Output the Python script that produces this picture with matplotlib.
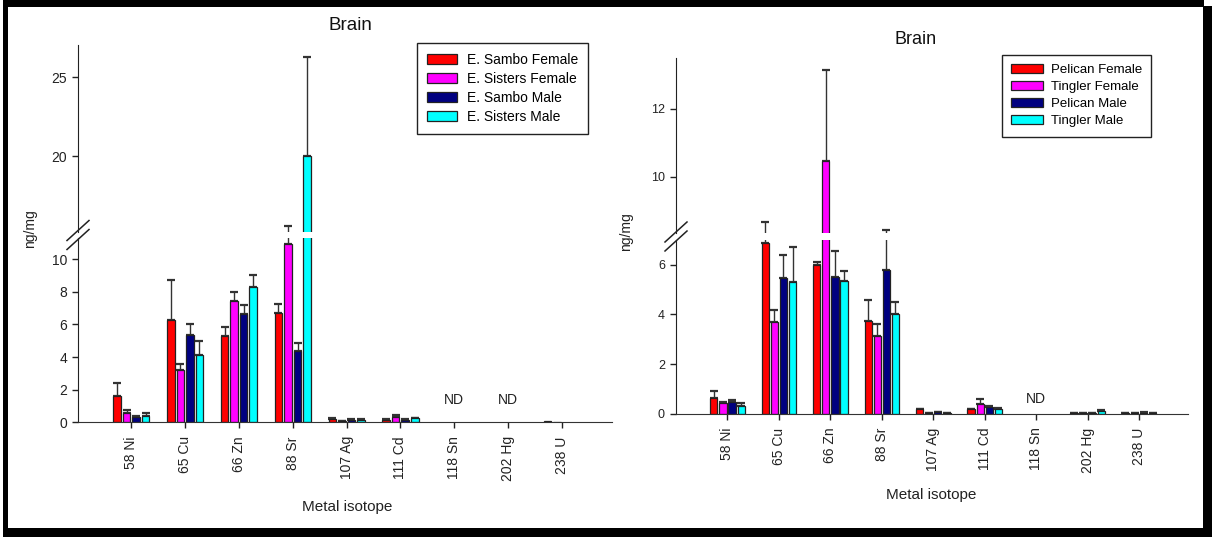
import numpy as np
import matplotlib
matplotlib.use('Agg')
import matplotlib.pyplot as plt
from matplotlib.patches import Rectangle
from matplotlib.lines import Line2D
import matplotlib.transforms as mtrans

plt.rcParams['font.family'] = ['Liberation Sans', 'DejaVu Sans']

W, H = 1212, 537
nan = np.nan

isotopes = ['58 Ni', '65 Cu', '66 Zn', '88 Sr', '107 Ag', '111 Cd', '118 Sn', '202 Hg', '238 U']
colors = ['#ff0000', '#ff00ff', '#000080', '#00ffff']

# panel 1 : E. Sambo / E. Sisters (ng/mg, mean and top of error bar)
left_labels = ['E. Sambo Female', 'E. Sisters Female', 'E. Sambo Male', 'E. Sisters Male']
sambo_f = [1.63, 6.26, 5.30, 6.73, 0.20, 0.16, nan, nan, 0.08]
sambo_f_top = [2.42, 8.75, 5.87, 7.28, 0.27, 0.20, nan, nan, nan]
sisters_f = [0.60, 3.21, 7.44, 10.92, 0.06, 0.31, nan, nan, 0.03]
sisters_f_top = [0.74, 3.58, 7.98, 15.6, 0.07, 0.45, nan, nan, nan]
sambo_m = [0.31, 5.38, 6.65, 4.40, 0.16, 0.16, nan, nan, nan]
sambo_m_top = [0.37, 6.03, 7.20, 4.85, 0.20, 0.20, nan, nan, nan]
sisters_m = [0.40, 4.11, 8.30, 20.0, 0.16, 0.25, nan, nan, nan]
sisters_m_top = [0.59, 4.97, 9.06, 26.3, 0.20, 0.29, nan, nan, nan]
left_nd = ['118 Sn', '202 Hg']

# panel 2 : Pelican / Tingler
right_labels = ['Pelican Female', 'Tingler Female', 'Pelican Male', 'Tingler Male']
pelican_f = [0.64, 6.86, 5.99, 3.73, 0.18, 0.17, nan, 0.01, 0.03]
pelican_f_top = [0.91, 8.66, 6.12, 4.60, 0.19, 0.20, nan, 0.02, 0.04]
tingler_f = [0.44, 3.70, 10.47, 3.14, 0.02, 0.41, nan, 0.02, 0.03]
tingler_f_top = [0.48, 4.17, 13.16, 3.60, 0.03, 0.58, nan, 0.03, 0.04]
pelican_m = [0.48, 5.48, 5.52, 5.81, 0.05, 0.29, nan, 0.03, 0.03]
pelican_m_top = [0.56, 6.39, 6.55, 8.45, 0.07, 0.32, nan, 0.04, 0.05]
tingler_m = [0.32, 5.29, 5.34, 4.00, 0.03, 0.20, nan, 0.12, 0.03]
tingler_m_top = [0.44, 6.70, 5.74, 4.50, 0.04, 0.22, nan, 0.15, 0.04]
right_nd = ['118 Sn']


def fx(px):
    return px / W


def fy(py):
    return 1 - py / H


def rect(x0, y_top, x1, y_bot):
    return [fx(x0), fy(y_bot), fx(x1) - fx(x0), fy(y_top) - fy(y_bot)]


def draw_bars(ax, means, tops, step=0.177, width=0.14):
    x = np.arange(len(isotopes))
    handles = []
    for k, (m, t) in enumerate(zip(means, tops)):
        m = np.array(m, float)
        t = np.array(t, float)
        xs = x + (k - 1.5) * step
        ok = np.isfinite(m)
        h = ax.bar(xs[ok], m[ok], width, color=colors[k], edgecolor='#222222', linewidth=0.9, zorder=2)
        handles.append(h)
        ek = ok & np.isfinite(t)
        up = t[ek] - m[ek]
        ax.errorbar(xs[ek], m[ek], yerr=[np.zeros_like(up), up], fmt='none',
                    ecolor='#333333', elinewidth=1.0, capsize=3, capthick=1.6, zorder=1)
    return handles


def draw_panel(fig, xr, lo_y, hi_y, means, tops, lo_lim, hi_lim, lo_ticks, hi_ticks,
               xlim, nd, nd_y, ytick_size):
    ax_lo = fig.add_axes(rect(xr[0], lo_y[0], xr[1], lo_y[1]))
    ax_hi = fig.add_axes(rect(xr[0], hi_y[0], xr[1], hi_y[1]))
    handles = None
    for ax in (ax_lo, ax_hi):
        handles = draw_bars(ax, means, tops)
        ax.set_xlim(*xlim)
        ax.set_facecolor('none')
        for s in ('top', 'right'):
            ax.spines[s].set_visible(False)
        ax.spines['left'].set_color('#222222')
        ax.spines['bottom'].set_color('#333333')
        ax.tick_params(axis='y', direction='out', length=4, width=1, pad=4,
                       labelsize=ytick_size, colors='#222222')
    ax_lo.set_ylim(*lo_lim)
    ax_hi.set_ylim(*hi_lim)
    ax_lo.set_yticks(lo_ticks)
    ax_hi.set_yticks(hi_ticks)
    ax_hi.spines['bottom'].set_visible(False)
    ax_hi.set_xticks([])
    ax_lo.set_xticks(np.arange(len(isotopes)))
    ax_lo.set_xticklabels(isotopes, rotation=90, fontsize=10)
    ax_lo.tick_params(axis='x', direction='out', length=4, width=1, pad=6, colors='#222222')
    trans = mtrans.blended_transform_factory(ax_lo.transData, ax_lo.transAxes)
    for name in nd:
        ax_lo.text(isotopes.index(name), nd_y, 'ND', transform=trans, ha='center',
                   va='center', fontsize=10, color='#222222')
    # axis break marks
    cx = xr[0]
    cy = (lo_y[0] + hi_y[1]) / 2
    for dy in (-4.5, 4.5):
        fig.add_artist(Line2D([fx(cx - 11), fx(cx + 11)], [fy(cy + dy + 10), fy(cy + dy - 10)],
                              color='#222222', lw=1.1))
    return handles


fig = plt.figure(figsize=(W / 100, H / 100), dpi=100)
fig.patch.set_facecolor('white')

# shadowed frame
fig.add_artist(Rectangle((fx(3), 0), 1 - fx(3), 1, transform=fig.transFigure,
                         facecolor='black', edgecolor='none', zorder=-10))
fig.add_artist(Rectangle((fx(8), fy(528)), fx(1203) - fx(8), fy(7) - fy(528),
                         transform=fig.transFigure, facecolor='white', edgecolor='none', zorder=-9))
fig.add_artist(Rectangle((fx(1204), fy(6)), 1 - fx(1204), 1 - fy(6), transform=fig.transFigure,
                         facecolor='white', edgecolor='none', zorder=-9))

h1 = draw_panel(fig, (78, 612), (238, 422.3), (45.5, 232),
                [sambo_f, sisters_f, sambo_m, sisters_m],
                [sambo_f_top, sisters_f_top, sambo_m_top, sisters_m_top],
                (0, 11.3), (15.2, 27.0), [0, 2, 4, 6, 8, 10], [20, 25],
                (-0.99, 8.93), left_nd, 0.121, 10)

h2 = draw_panel(fig, (676, 1188), (240, 413.7), (58, 233),
                [pelican_f, tingler_f, pelican_m, tingler_m],
                [pelican_f_top, tingler_f_top, pelican_m_top, tingler_m_top],
                (0, 7.0), (8.35, 13.5), [0, 2, 4, 6], [10, 12],
                (-1.0, 8.95), right_nd, 0.0875, 9)

fig.legend(h1, left_labels, loc='upper left', bbox_to_anchor=(fx(417), fy(43)),
           bbox_transform=fig.transFigure, borderaxespad=0, fontsize=10, frameon=True,
           fancybox=False, edgecolor='#222222', framealpha=1, handlelength=2.2,
           handleheight=0.7, handletextpad=0.7, labelspacing=0.37, borderpad=0.7)
fig.legend(h2, right_labels, loc='upper left', bbox_to_anchor=(fx(1002), fy(55)),
           bbox_transform=fig.transFigure, borderaxespad=0, fontsize=9.5, frameon=True,
           fancybox=False, edgecolor='#222222', framealpha=1, handlelength=2.4,
           handleheight=0.7, handletextpad=0.6, labelspacing=0.36, borderpad=0.7)

fig.text(fx(350), fy(26), 'Brain', ha='center', va='center', fontsize=13.5, color='#111111')
fig.text(fx(916), fy(40), 'Brain', ha='center', va='center', fontsize=13, color='#111111')
fig.text(fx(30), fy(229), 'ng/mg', rotation=90, ha='center', va='center', fontsize=10, color='#222222')
fig.text(fx(626), fy(232), 'ng/mg', rotation=90, ha='center', va='center', fontsize=10, color='#222222')
fig.text(fx(347), fy(507), 'Metal isotope', ha='center', va='center', fontsize=11, color='#222222')
fig.text(fx(931), fy(495), 'Metal isotope', ha='center', va='center', fontsize=11, color='#222222')

fig.savefig('out.png', dpi=100, facecolor=fig.get_facecolor())
